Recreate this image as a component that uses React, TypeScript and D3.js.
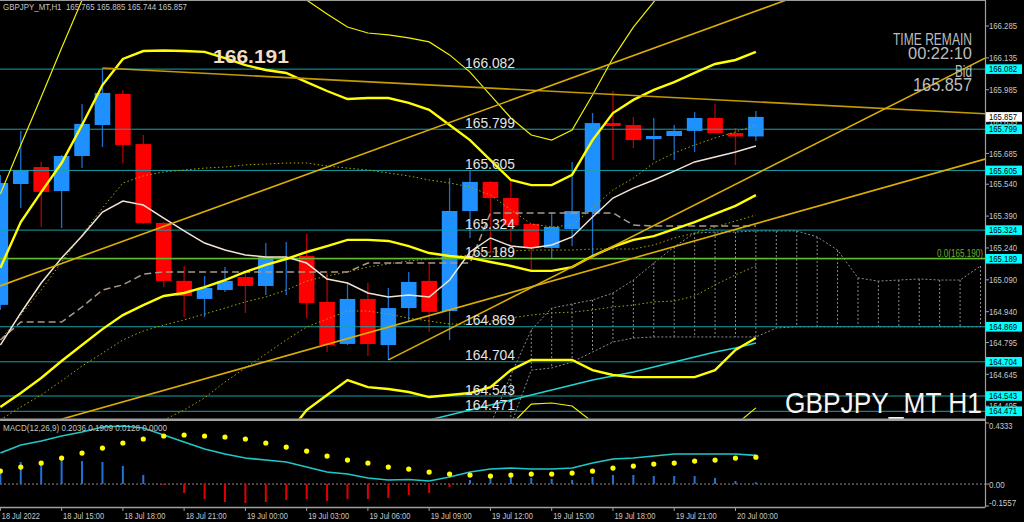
import React from "react";
import * as d3 from "d3";

const FONT = "'Liberation Sans', Arial, sans-serif";
const NARROW = "'Liberation Sans Narrow', 'Liberation Sans', Arial, sans-serif";

// ---------- candles (bar 0 = 18 Jul 12:00, H1) ----------
const opens = [164.972,165.541,165.621,165.508,165.673,165.819,165.965,165.729,165.358,165.085,165.000,165.042,165.103,165.061,165.190,165.202,164.986,164.788,165.000,164.783,164.957,165.085,164.943,165.414,165.551,165.475,165.353,165.240,165.329,165.409,165.828,165.819,165.753,165.767,165.791,165.852,165.781,165.765];
const highs = [165.584,165.791,165.645,165.678,165.918,166.087,165.984,165.772,165.362,165.155,165.108,165.150,165.127,165.263,165.268,165.306,165.122,165.075,165.075,165.052,165.127,165.169,165.569,165.607,165.555,165.565,165.353,165.405,165.645,165.875,165.979,165.857,165.852,165.819,165.880,165.918,165.805,165.885];
const lows = [164.948,165.428,165.339,165.334,165.617,165.715,165.640,165.353,165.056,164.915,164.915,165.033,164.934,165.019,165.019,164.910,164.750,164.783,164.731,164.713,164.891,164.844,164.807,165.287,165.216,165.268,165.127,165.193,165.249,165.207,165.654,165.711,165.654,165.654,165.692,165.781,165.631,165.744];
const closes = [165.546,165.607,165.504,165.673,165.824,165.970,165.725,165.358,165.085,165.014,165.052,165.085,165.061,165.197,165.195,164.981,164.783,165.000,164.788,164.957,165.080,164.939,165.414,165.551,165.475,165.348,165.240,165.339,165.414,165.828,165.814,165.748,165.767,165.791,165.852,165.781,165.765,165.857];

// ---------- indicator lines (values per bar) ----------
const bbUpper2 = [165.146,165.362,165.503,165.640,165.819,166.007,166.130,166.167,166.170,166.167,166.163,166.134,166.101,166.078,166.064,166.021,165.979,165.941,165.946,165.946,165.923,165.890,165.819,165.748,165.654,165.560,165.536,165.536,165.584,165.748,165.875,165.937,165.984,166.021,166.064,166.106,166.125,166.163];
const bbMiddle = [164.491,164.557,164.628,164.708,164.783,164.858,164.924,164.971,165.014,165.028,165.056,165.089,165.127,165.160,165.188,165.221,165.249,165.278,165.278,165.273,165.249,165.216,165.202,165.193,165.174,165.155,165.132,165.132,165.150,165.202,165.245,165.278,165.296,165.329,165.362,165.400,165.438,165.489];
const bbLower2Start = 13;
const bbLower2 = [164.265,164.355,164.477,164.548,164.618,164.585,164.576,164.562,164.538,164.548,164.557,164.585,164.665,164.713,164.713,164.713,164.665,164.642,164.632,164.632,164.632,164.632,164.665,164.760,164.816];
const bbUpper3aStart = 0;
const bbUpper3a = [165.494,165.725,165.951,166.181,166.407,166.619];
const bbUpper3bStart = 14;
const bbUpper3b = [166.502,166.407,166.342,166.280,166.252,166.243,166.229,166.210,166.149,166.068,165.960,165.852,165.772,165.748,165.795,165.960,166.134,166.280,166.398,166.525];
const bbLower3Start = 24;
const bbLower3 = [164.289,164.407,164.505,164.510,164.496,164.421,164.336,164.289,164.265,164.265,164.289,164.336,164.407,164.487];
const bbUpper1 = [164.807,164.924,165.042,165.174,165.301,165.428,165.546,165.579,165.598,165.607,165.616,165.621,165.631,165.635,165.640,165.640,165.626,165.616,165.607,165.593,165.579,165.560,165.546,165.527,165.489,165.419,165.353,165.339,165.348,165.428,165.513,165.569,165.640,165.687,165.725,165.758,165.786,165.819];
const dottedMid = [164.430,164.491,164.548,164.614,164.684,164.745,164.807,164.849,164.877,164.901,164.929,164.957,164.986,165.009,165.042,165.084,165.108,165.127,165.150,165.165,165.179,165.188,165.197,165.207,165.221,165.226,165.230,165.230,165.230,165.235,165.235,165.235,165.254,165.287,165.310,165.339,165.367,165.395];
const bbLower1Start = 8;
const bbLower1 = [164.430,164.477,164.534,164.609,164.675,164.741,164.807,164.868,164.906,164.943,164.943,164.929,164.910,164.896,164.882,164.882,164.896,164.910,164.924,164.934,164.938,164.948,164.962,164.971,164.986,164.990,165.014,165.066,165.113,165.155];
const whiteMA = [164.783,164.934,165.075,165.193,165.296,165.409,165.461,165.442,165.381,165.320,165.263,165.230,165.207,165.197,165.197,165.169,165.094,165.075,165.028,165.009,165.019,165.009,165.089,165.221,165.287,165.249,165.240,165.254,165.292,165.386,165.475,165.522,165.560,165.602,165.645,165.668,165.692,165.720];
const kijun = [164.807,164.891,164.891,164.891,164.962,165.042,165.066,165.117,165.127,165.127,165.127,165.127,165.127,165.127,165.127,165.127,165.127,165.127,165.169,165.169,165.169,165.169,165.169,165.169,165.405,165.405,165.405,165.405,165.405,165.405,165.405,165.348,165.343,165.343,165.343,165.343,165.343,165.343];
const cyanMAStart = 19;
const cyanMA = [164.383,164.407,164.430,164.454,164.477,164.501,164.524,164.548,164.571,164.595,164.618,164.637,164.656,164.680,164.703,164.727,164.750,164.769,164.793];
const cloudStart = 24;
const spanA = [164.407,164.642,164.854,164.957,164.976,164.995,165.028,165.089,165.169,165.245,165.310,165.315,165.315,165.320,165.320,165.320,165.292,165.230,165.099,165.084,165.089,165.094,165.089,165.089,165.155];
const spanB = [164.195,164.407,164.665,164.675,164.703,164.750,164.797,164.816,164.821,164.821,164.821,164.821,164.821,164.821,164.863,164.869,164.869,164.869,164.869,164.869,164.869,164.869,164.869,164.869,164.869];

// ---------- trend lines (bar index, price) ----------
const trendLines = [
  { b1: 5, p1: 166.087, b2: 40, p2: 165.913, both: false, color: "#c39b00" },
  { b1: 0, p1: 165.062, b2: 20, p2: 165.761, both: true, color: "#dcae00" },
  { b1: 19, p1: 164.713, b2: 40, p2: 165.734, both: false, color: "#dcae00" },
  { b1: 15, p1: 164.759, b2: 40, p2: 165.436, both: true, color: "#dcae00" },
];

// ---------- horizontal levels ----------
const levels = [166.082, 165.799, 165.605, 165.324, 165.189, 164.869, 164.704, 164.543, 164.471];
const fiboLevel = 165.190;
const bidPrice = 165.857;
const priceTicks = [166.285,166.135,165.985,165.835,165.685,165.540,165.390,165.240,165.090,164.940,164.795,164.645,164.495];

// ---------- MACD ----------
const macdMain = [0.2202,0.2770,0.3054,0.3409,0.3693,0.4048,0.4119,0.3977,0.3480,0.2983,0.2486,0.2131,0.1847,0.1705,0.1563,0.1207,0.0852,0.0710,0.0426,0.0284,0.0320,0.0213,0.0497,0.0852,0.1065,0.1136,0.1065,0.1065,0.1136,0.1491,0.1776,0.1847,0.1989,0.2131,0.2131,0.2131,0.2131,0.2036];
const macdSignal = [0.0923,0.1207,0.1491,0.1847,0.2202,0.2557,0.2912,0.3196,0.3409,0.3480,0.3409,0.3338,0.3196,0.2912,0.2628,0.2344,0.1989,0.1705,0.1491,0.1207,0.1065,0.0852,0.0710,0.0639,0.0568,0.0639,0.0710,0.0710,0.0781,0.0923,0.1136,0.1278,0.1420,0.1491,0.1634,0.1705,0.1847,0.1909];
const macdHist = [0.0994,0.1563,0.1563,0.1847,0.1634,0.1563,0.1278,0.0639,-0.0070,-0.0639,-0.1065,-0.1278,-0.1349,-0.1278,-0.1136,-0.1065,-0.1207,-0.1065,-0.1065,-0.0994,-0.0781,-0.0639,-0.0213,0.0284,0.0639,0.0497,0.0426,0.0355,0.0284,0.0497,0.0639,0.0639,0.0568,0.0568,0.0568,0.0426,0.0213,0.0128];
const macdTicks = [{ v: 0.4333, t: "0.4333" }, { v: 0, t: "0.00" }, { v: -0.1557, t: "-0.1557" }];

// ---------- time axis ----------
const timeLabels = ["18 Jul 2022","18 Jul 15:00","18 Jul 18:00","18 Jul 21:00","19 Jul 00:00","19 Jul 03:00","19 Jul 06:00","19 Jul 09:00","19 Jul 12:00","19 Jul 15:00","19 Jul 18:00","19 Jul 21:00","20 Jul 00:00"];
const timeLabelBars = [0,3,6,9,12,15,18,21,24,27,30,33,36];

// ---------- layout ----------
const W = 1024, H = 522;
const AXIS_X = 985;
const MAIN_BOTTOM = 418.5;
const MACD_TOP = 421;
const MACD_BOTTOM = 507.5;

const xScale = d3.scaleLinear().domain([0, 48]).range([0.35, 0.35 + 20.42 * 48]);
const yScale = d3.scaleLinear().domain([166.285, 164.495]).range([26, 406.2]);
const mScale = d3.scaleLinear().domain([0.4333, -0.1557]).range([423, 506]);

type P = [number, number];
const pts = (vals: number[], start = 0): P[] => vals.map((v, k) => [start + k, v] as P);
const pLine = d3.line<P>().x(d => xScale(d[0])).y(d => yScale(d[1]));
const mLine = d3.line<P>().x(d => xScale(d[0])).y(d => mScale(d[1]));

function Txt(props: any) {
  const { x, y, w, size, fill, anchor, weight, family, children } = props;
  return (
    <text x={x} y={y} fontSize={size} fill={fill} textAnchor={anchor || "start"}
      fontWeight={weight || "normal"} fontFamily={family || FONT}
      textLength={w} lengthAdjust="spacingAndGlyphs" style={{ whiteSpace: "pre" }}>
      {children}
    </text>
  );
}

export default function App() {
  const xEnd = xScale.invert(AXIS_X);
  const xStart = xScale.invert(0);
  const trendPath = (t: any) => {
    const s = (t.p2 - t.p1) / (t.b2 - t.b1);
    const a = t.both ? xStart : t.b1;
    return pLine([[a, t.p1 + s * (a - t.b1)], [xEnd, t.p1 + s * (xEnd - t.b1)]]);
  };
  const halfBody = 7.8;
  const cloudA = pts(spanA, cloudStart);
  const cloudB = pts(spanB, cloudStart);

  const yellowThick = { stroke: "#ffff00", strokeWidth: 2.4, fill: "none" };
  const yellowThin = { stroke: "#f0f000", strokeWidth: 1.2, fill: "none" };
  const olive = { stroke: "#a8a800", strokeWidth: 1, fill: "none", strokeDasharray: "1.5,2.5" };

  return (
    <svg width={W} height={H} style={{ position: "absolute", left: 0, top: 0, display: "block" }}>
      <defs>
        <clipPath id="mainClip"><rect x={0} y={1} width={AXIS_X} height={MAIN_BOTTOM - 1} /></clipPath>
        <clipPath id="macdClip"><rect x={0} y={MACD_TOP} width={AXIS_X} height={MACD_BOTTOM - MACD_TOP} /></clipPath>
      </defs>
      <rect x={0} y={0} width={W} height={H} fill="#000" />

      {/* ---------- main panel ---------- */}
      <g clipPath="url(#mainClip)">
        {/* cloud hatching */}
        {cloudA.map((a, k) => (
          <line key={"cv" + k} x1={xScale(a[0])} x2={xScale(a[0])} y1={yScale(a[1])} y2={yScale(cloudB[k][1])}
            stroke="#8c8c8c" strokeWidth={1} strokeDasharray="2,2" />
        ))}
        <path d={pLine(cloudA) || ""} stroke="#8c8c8c" strokeWidth={1} strokeDasharray="2,2" fill="none" />
        <path d={pLine(cloudB) || ""} stroke="#8c8c8c" strokeWidth={1} strokeDasharray="2,2" fill="none" />

        {/* candles */}
        {opens.map((o, i) => {
          const c = closes[i];
          const bull = c >= o;
          const cx = xScale(i);
          const top = yScale(Math.max(o, c));
          const bot = yScale(Math.min(o, c));
          return (
            <g key={"c" + i}>
              <line x1={cx} x2={cx} y1={yScale(highs[i])} y2={yScale(lows[i])}
                stroke={bull ? "#1d6ec9" : "#b40000"} strokeWidth={1.3} />
              <rect x={cx - halfBody} y={top} width={halfBody * 2} height={Math.max(1.5, bot - top)}
                fill={bull ? "#1e90ff" : "#ff0000"} />
            </g>
          );
        })}

        {/* horizontal levels */}
        {levels.map((lv, k) => (
          <line key={"lv" + k} x1={0} x2={AXIS_X} y1={yScale(lv)} y2={yScale(lv)} stroke="#17a2a8" strokeWidth={1} />
        ))}
        <line x1={0} x2={AXIS_X} y1={yScale(fiboLevel)} y2={yScale(fiboLevel)} stroke="#62b832" strokeWidth={1.5} />

        {/* bands / MAs */}
        <path d={pLine(pts(bbUpper1)) || ""} {...olive} />
        <path d={pLine(pts(dottedMid)) || ""} {...olive} />
        <path d={pLine(pts(bbLower1, bbLower1Start)) || ""} {...olive} />
        <path d={pLine(pts(bbUpper3a, bbUpper3aStart)) || ""} {...yellowThin} />
        <path d={pLine(pts(bbUpper3b, bbUpper3bStart)) || ""} {...yellowThin} />
        <path d={pLine(pts(bbLower3, bbLower3Start)) || ""} {...yellowThin} />
        <path d={pLine(pts(kijun)) || ""} stroke="#a8998a" strokeWidth={1.5} strokeDasharray="7,4" fill="none" />
        <path d={pLine(pts(whiteMA)) || ""} stroke="#f2e3d5" strokeWidth={1.5} fill="none" />
        <path d={pLine(pts(cyanMA, cyanMAStart)) || ""} stroke="#22d3d3" strokeWidth={1.5} fill="none" />
        <path d={pLine(pts(bbUpper2)) || ""} {...yellowThick} />
        <path d={pLine(pts(bbMiddle)) || ""} {...yellowThick} />
        <path d={pLine(pts(bbLower2, bbLower2Start)) || ""} {...yellowThick} />

        {/* trend lines */}
        {trendLines.map((t, k) => (
          <path key={"tl" + k} d={trendPath(t) || ""} stroke={t.color} strokeWidth={1.6} fill="none" />
        ))}
      </g>

      {/* level labels */}
      {levels.map((lv, k) => (
        <Txt key={"ll" + k} x={465} y={yScale(lv) - 1.5} w={50} size={14.5} fill="#e4e4e4">{lv.toFixed(3)}</Txt>
      ))}
      <Txt x={983} y={yScale(fiboLevel) - 1.5} w={46} size={10} fill="#6fae2c" anchor="end">{`0.0(${fiboLevel.toFixed(3)})`}</Txt>

      <Txt x={213} y={63} w={76} size={19} weight="bold" fill="#f2dcc2">166.191</Txt>
      <Txt x={3} y={9.5} w={184} size={8.5} fill="#c4c4c4">{"GBPJPY_MT,H1  165.765 165.885 165.744 165.857"}</Txt>

      <Txt x={972} y={45} w={79} size={16} fill="#bdbdbd" anchor="end" family={NARROW}>TIME REMAIN</Txt>
      <Txt x={972} y={59} w={64} size={16} fill="#bdbdbd" anchor="end" family={NARROW}>00:22:10</Txt>
      <Txt x={972} y={77} w={17} size={16} fill="#bdbdbd" anchor="end" family={NARROW}>Bid</Txt>
      <Txt x={972} y={91} w={59} size={19} fill="#bdbdbd" anchor="end" family={NARROW}>{bidPrice.toFixed(3)}</Txt>

      <Txt x={785} y={413} w={197} size={29} fill="#f4f4f4">GBPJPY_MT H1</Txt>

      {/* ---------- MACD panel ---------- */}
      <g clipPath="url(#macdClip)">
        <line x1={0} x2={AXIS_X} y1={mScale(0)} y2={mScale(0)} stroke="#8a8a8a" strokeWidth={1} strokeDasharray="2,2" />
        {macdHist.map((v, i) => (
          <line key={"h" + i} x1={xScale(i)} x2={xScale(i)} y1={mScale(0)} y2={mScale(v)}
            stroke={v >= 0 ? "#1f73d9" : "#e00000"} strokeWidth={2} />
        ))}
        <path d={mLine(pts(macdMain)) || ""} stroke="#1fc8c8" strokeWidth={1.6} fill="none" />
        {macdSignal.map((v, i) => (
          <circle key={"s" + i} cx={xScale(i)} cy={mScale(v)} r={2.6} fill="#ffff00" />
        ))}
      </g>
      <Txt x={3} y={431} w={164} size={8.5} fill="#c4c4c4">{"MACD(12,26,9) 0.2036 0.1909 0.0128 0.0000"}</Txt>

      {/* ---------- frames ---------- */}
      <line x1={0} x2={AXIS_X} y1={0.5} y2={0.5} stroke="#9a9a9a" strokeWidth={1} />
      <line x1={0} x2={AXIS_X} y1={419.8} y2={419.8} stroke="#a0a0a0" strokeWidth={2.6} />
      <line x1={0} x2={AXIS_X} y1={MACD_BOTTOM} y2={MACD_BOTTOM} stroke="#a0a0a0" strokeWidth={1.5} />
      <line x1={AXIS_X + 0.5} x2={AXIS_X + 0.5} y1={0} y2={MACD_BOTTOM} stroke="#a0a0a0" strokeWidth={1.2} />

      {/* price axis */}
      {priceTicks.map((p, k) => (
        <g key={"pt" + k}>
          <line x1={AXIS_X} x2={AXIS_X + 4} y1={yScale(p)} y2={yScale(p)} stroke="#a0a0a0" />
          <Txt x={989} y={yScale(p) + 3.2} w={28} size={9} fill="#c8c8c8">{p.toFixed(3)}</Txt>
        </g>
      ))}
      {levels.map((lv, k) => (
        <g key={"lb" + k}>
          <rect x={AXIS_X + 1} y={yScale(lv) - 4.8} width={36} height={9.6} fill="#00ffff" />
          <Txt x={989} y={yScale(lv) + 3.2} w={28} size={9} fill="#000">{lv.toFixed(3)}</Txt>
        </g>
      ))}
      <rect x={AXIS_X + 1} y={yScale(bidPrice) - 4.8} width={36} height={9.6} fill="#ffffff" />
      <Txt x={989} y={yScale(bidPrice) + 3.2} w={28} size={9} fill="#000">{bidPrice.toFixed(3)}</Txt>

      {/* macd axis */}
      {macdTicks.map((t, k) => (
        <g key={"mt" + k}>
          <line x1={AXIS_X} x2={AXIS_X + 4} y1={mScale(t.v)} y2={mScale(t.v)} stroke="#a0a0a0" />
          <Txt x={989} y={k === 0 ? 429 : k === 1 ? 487.5 : 505.5} w={t.t.length * 3.9} size={9} fill="#c8c8c8">{t.t}</Txt>
        </g>
      ))}

      {/* time axis */}
      {timeLabelBars.map((b, k) => (
        <g key={"tx" + k}>
          <line x1={xScale(b)} x2={xScale(b)} y1={MACD_BOTTOM} y2={MACD_BOTTOM + 3.5} stroke="#a0a0a0" />
          <Txt x={xScale(b) + 1.5} y={518.5} w={k === 0 ? 38 : 41} size={9.5} fill="#c8c8c8">{timeLabels[k]}</Txt>
        </g>
      ))}
    </svg>
  );
}
